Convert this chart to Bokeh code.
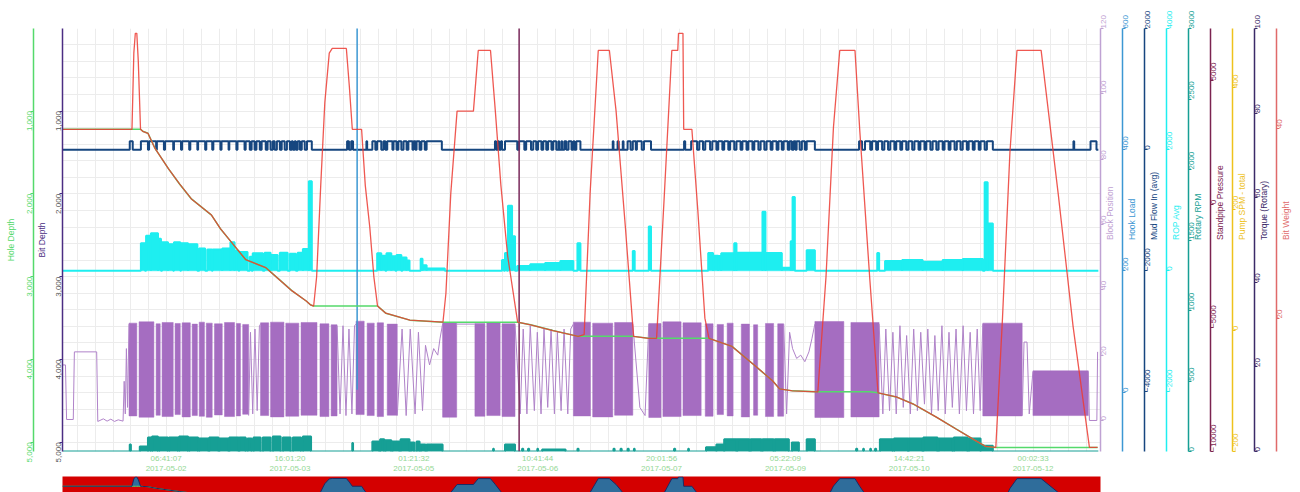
import math, calendar
from datetime import datetime
from bokeh.plotting import figure
from bokeh.models import Range1d, LinearAxis, FixedTicker, SingleIntervalTicker, NumeralTickFormatter
from bokeh.layouts import column
from bokeh.embed import file_html
from bokeh.resources import INLINE

FONT = "Liberation Sans"

# ---------------- time axis ----------------
t_start = "2017-05-01 02:48:10"
t_end = "2017-05-12 18:11:00"
tick_times = ["2017-05-02 06:41:07", "2017-05-03 16:01:20", "2017-05-05 01:21:32",
              "2017-05-06 10:41:44", "2017-05-07 20:01:56", "2017-05-09 05:22:09",
              "2017-05-10 14:42:21", "2017-05-12 00:02:33"]

def to_ms(s):
    return calendar.timegm(datetime.strptime(s, "%Y-%m-%d %H:%M:%S").timetuple()) * 1000.0

T0 = to_ms(t_start)

def H(hours):
    return [T0 + h * 3600000.0 for h in hours]

# ---------------- depth data (hours since start, feet) ----------------
depth_t = [0, 18.7, 19.2, 19.6, 20.0, 20.4, 21.0, 21.6, 23.0, 24.9, 28.5, 31.5, 34.7, 40.1, 42.5,
           45.5, 49.3, 54.7, 58.0, 61.8, 65.6, 66.8, 67.6, 68.4, 69.5, 70.6, 71.8, 72.6, 76.4, 77.2,
           78.0, 80.5, 81.5, 82.7, 83.8, 84.8, 87.0, 93.5, 102.4, 103.2, 104.5, 106.2, 110.6, 111.9,
           115.2, 116.5, 118.0, 119.8, 122.5, 126.0, 132.0, 138.8, 140.4, 142.0, 144.2, 147.2, 149.0,
           151.5, 153.7, 157.7, 159.9, 162.0, 164.0, 165.6, 165.8, 167.0, 167.2, 169.4, 171.0, 172.9,
           174.0, 180.2, 186.0, 191.1, 193.0, 196.5, 203.3, 205.5, 207.5, 209.2, 213.3, 214.6, 217.3,
           219.5, 224.4, 229.0, 235.2, 240.6, 246.1, 248.5, 251.2, 253.0, 255.0, 256.9, 263.4, 268.0,
           272.0, 276.4, 278.6]
bit_depth = [1220, 1220, 300, 61, 61, 400, 1220, 1244, 1268, 1451, 1695, 1880, 2061, 2256, 2420,
             2585, 2793, 2890, 3020, 3171, 3293, 3341, 3354, 3000, 1900, 900, 300, 244, 244, 700,
             1220, 1220, 1900, 2400, 3000, 3354, 3440, 3524, 3549, 3200, 2000, 1000, 1000, 268,
             268, 1000, 1900, 2744, 3549, 3580, 3650, 3720, 3700, 2000, 268, 268, 1000,
             2400, 3720, 3744, 3744, 2000, 268, 268, 61, 61, 1220, 1220, 2200, 3500,
             3744, 3841, 4060, 4256, 4354, 4378, 4390, 3000, 1200, 268, 268, 1244, 3037,
             4402, 4451, 4537, 4695, 4841, 4988, 5049, 5061, 3500, 1500, 268, 268, 2000,
             3600, 5061, 5061]
hole_depth = [1220, 1220, 1220, 1220, 1220, 1220, 1220, 1244, 1268, 1451, 1695, 1880, 2061, 2256, 2420,
              2585, 2793, 2890, 3020, 3171, 3293, 3341, 3354, 3354, 3354, 3354, 3354, 3354, 3354, 3354,
              3354, 3354, 3354, 3354, 3354, 3354, 3440, 3524, 3549, 3549, 3549, 3549, 3549, 3549,
              3549, 3549, 3549, 3549, 3549, 3580, 3650, 3720, 3720, 3720, 3720, 3720, 3720,
              3720, 3720, 3744, 3744, 3744, 3744, 3744, 3744, 3744, 3744, 3744, 3744, 3744,
              3744, 3841, 4060, 4256, 4354, 4378, 4390, 4390, 4390, 4390, 4390, 4390, 4390,
              4402, 4451, 4537, 4695, 4841, 4988, 5049, 5061, 5061, 5061, 5061, 5061, 5061,
              5061, 5061, 5061]

# ---------------- block position ----------------
bp_dense_start = [17.9, 20.6, 25.2, 26.8, 30.3, 32.2, 34.9, 36.8, 38.7, 40.9, 43.6, 46.8, 48.5, 53.3,
                  56.0, 60.1, 64.2, 69.3, 72.3, 79.0, 82.0, 84.7, 87.4, 102.3, 111.0, 114.2, 118.3,
                  137.5, 142.7, 148.6, 157.8, 161.6, 167.0, 173.0, 176.2, 178.9, 182.7, 186.0, 189.2,
                  192.5, 202.5, 212.2, 247.7, 261.2]
bp_dense_end = [20.0, 24.6, 26.3, 29.8, 31.7, 34.4, 36.3, 38.2, 40.3, 43.0, 46.3, 47.9, 50.1, 55.5,
                59.6, 63.6, 68.5, 71.7, 73.9, 81.2, 83.9, 86.4, 90.1, 106.1, 113.7, 117.8, 121.8,
                142.1, 148.1, 153.5, 161.1, 166.5, 171.9, 175.1, 177.9, 180.5, 184.9, 187.1, 191.4,
                194.1, 210.3, 219.8, 258.3, 276.1]
bp_dense_top = [29.8, 30.2, 29.6, 30.0, 29.7, 29.9, 29.5, 30.1, 29.8, 29.6, 30.0, 29.7, 29.4, 29.9,
                30.1, 29.8, 30.0, 29.6, 29.3, 30.4, 29.8, 29.9, 29.5, 30.0, 29.7, 29.9, 29.6, 30.1,
                29.8, 30.0, 29.7, 30.2, 29.9, 29.6, 29.4, 29.8, 29.5, 29.3, 29.7, 29.6, 30.3, 30.0,
                29.8, 15.2]
bp_dense_bottom = [1.4, 1.0, 1.6, 1.2, 1.8, 1.1, 1.5, 1.3, 1.0, 1.7, 1.2, 1.4, 1.9, 1.5, 1.1, 1.3,
                   1.6, 1.2, 1.4, 1.8, 1.5, 1.2, 1.6, 1.0, 1.3, 1.5, 1.2, 1.4, 1.1, 1.6, 0.9, 1.2,
                   1.5, 1.3, 1.8, 1.4, 1.1, 1.6, 1.2, 1.3, 0.9, 1.1, 1.4, 1.5]
bp_sparse_t = [
    [0, 0.8, 1.1, 2.9, 3.2, 9.2, 9.5, 11, 12, 13, 14, 15, 16.3, 16.6, 16.9, 17.2, 17.5, 17.9],
    [50.1, 50.6, 51.2, 51.8, 52.4, 53.0, 53.3],
    [73.9, 74.7, 75.5, 76.3, 77.1, 77.9, 78.6, 79.0],
    [90.1, 91.4, 92.5, 93.6, 94.9, 95.8, 96.9, 97.7, 98.8, 99.9, 101.0, 101.6, 102.3],
    [106.1, 111.0],
    [121.8, 123.2, 124.0, 125.0, 125.9, 127.0, 127.8, 128.8, 129.6, 130.6, 131.5, 132.4, 133.2,
     134.2, 135.0, 136.0, 136.8, 137.5],
    [153.5, 155.4, 156.8, 157.8],
    [194.1, 194.9, 195.7, 196.5, 197.6, 198.7, 199.8, 200.9, 201.7, 202.5],
    [219.8, 220.8, 221.6, 222.6, 223.5, 224.4, 225.4, 226.3, 227.2, 228.2, 229.1, 230.1, 231.0,
     232.0, 232.9, 233.9, 234.8, 235.7, 236.7, 237.6, 238.6, 239.5, 240.5, 241.4, 242.4, 243.3,
     244.3, 245.2, 246.2, 247.0, 247.7],
    [258.3, 258.8, 259.6, 260.2, 261.2],
    [276.1, 276.4, 278.4, 278.6],
]
bp_sparse_v = [
    [17, 17, 0.3, 0.3, 21, 21, -0.3, 0.5, -0.2, 0.4, -0.3, 0.2, -0.2, 12, 2, 22, 4, 29.5],
    [1.5, 27, 2, 28, 3, 29, 29.5],
    [29, 2, 29, 1.5, 28, 2, 29, 29.5],
    [1.5, 28, 1.5, 28, 2, 27, 3, 23, 17, 22, 20, 25, 29.5],
    [29.5, 29.5],
    [29.5, 2, 28, 2, 29, 3, 27, 2, 28, 4, 28, 2, 27, 3, 28, 2, 28, 29.5],
    [29.5, 4, 1.5, 29.5],
    [29.5, 2, 27, 22, 19, 20, 18, 21, 25, 29.5],
    [29.5, 2, 28, 3, 27, 2, 29, 4, 26, 2, 28, 3, 27, 5, 28, 2, 26, 3, 29, 2, 27, 4, 28, 2, 29, 3,
     27, 2, 28, 3, 29.5],
    [1.5, 24, 24, 2, 15],
    [15, 0, 0, 21],
]

# ---------------- mud flow in (avg): pumping intervals ----------------
mf_level = 140
mf_start = [18.1, 21.1, 23.3, 25.4, 27.6, 30.0, 32.2, 34.4, 36.5, 38.7, 40.6, 42.8, 44.9, 47.1, 49.3,
            50.9, 52.2, 53.6, 55.2, 56.6, 57.7, 59.0, 60.4, 61.7, 62.5, 63.3, 64.4, 65.8, 76.6, 77.7,
            81.8, 83.4, 84.7, 86.4, 87.4, 89.1, 90.4, 91.8, 93.1, 94.5, 95.3, 96.6, 98.0, 116.4,
            117.2, 118.0, 119.1, 122.9, 124.8, 126.7, 128.0, 129.4, 130.7, 132.1, 133.5, 134.3,
            135.1, 136.2, 137.5, 138.3, 148.1, 149.4, 150.8, 152.1, 153.5, 154.6, 156.5, 167.3,
            169.2, 171.4, 173.0, 174.9, 176.5, 178.1, 179.7, 181.4, 183.0, 184.6, 186.2, 187.9,
            189.5, 191.1, 192.7, 194.1, 195.7, 196.8, 197.6, 199.0, 200.3, 214.4, 216.0, 217.9,
            219.5, 221.2, 222.8, 224.4, 226.0, 227.7, 229.3, 230.9, 232.5, 234.2, 235.8, 237.4,
            239.0, 240.7, 242.3, 243.9, 245.5, 247.1, 248.8, 272.1, 276.7]
mf_end = [18.9, 23.0, 25.2, 27.3, 29.8, 31.9, 34.1, 36.3, 38.4, 40.3, 42.5, 44.7, 46.8, 49.0, 50.4,
          51.7, 53.1, 54.7, 56.0, 57.1, 58.5, 59.8, 61.2, 62.0, 62.8, 63.9, 65.2, 67.1, 77.1, 78.2,
          82.0, 84.2, 85.8, 86.9, 88.8, 89.9, 91.2, 92.6, 94.2, 95.0, 96.1, 97.5, 102.1, 116.7,
          117.5, 118.3, 122.4, 124.3, 126.1, 127.5, 128.9, 130.2, 131.6, 132.9, 133.7, 134.5,
          135.6, 137.0, 137.8, 139.4, 148.3, 149.7, 151.0, 152.9, 154.3, 155.9, 158.4, 167.6,
          170.8, 172.4, 174.3, 176.0, 177.6, 179.2, 180.8, 182.5, 184.1, 185.7, 187.3, 188.9,
          190.6, 192.2, 193.6, 195.2, 196.3, 197.3, 198.4, 199.8, 202.5, 215.2, 217.4, 219.0,
          220.6, 222.2, 223.9, 225.5, 227.1, 228.7, 230.4, 232.0, 233.6, 235.2, 236.9, 238.5,
          240.1, 241.7, 243.4, 245.0, 246.6, 248.2, 250.4, 272.3, 278.3]

# ---------------- ROP avg ----------------
rop_start = [21.1, 22.5, 23.8, 25.7, 26.8, 28.4, 30.0, 31.9, 33.8, 36.8, 39.0, 40.4, 43.0, 45.2, 46.3,
             47.6, 50.4, 51.2, 54.4, 56.0, 58.5, 61.2, 63.3, 64.7, 66.3, 84.7, 85.8, 87.2, 88.5, 89.9,
             91.5, 92.6, 96.4, 96.9, 98.0, 118.3, 119.1, 119.9, 121.0, 122.4, 125.9, 129.9, 134.0,
             138.6, 153.5, 157.8, 173.8, 175.1, 176.5, 177.3, 180.8, 181.4, 188.4, 189.2, 193.6,
             196.0, 196.5, 200.3, 219.3, 221.4, 226.0, 231.5, 236.9, 242.3, 248.2, 249.0]
rop_end = [22.2, 23.8, 25.7, 26.5, 28.4, 29.8, 31.7, 33.8, 36.3, 38.4, 40.2, 43.0, 45.2, 46.3, 47.4,
           49.8, 50.9, 53.9, 56.0, 57.9, 60.6, 62.8, 64.7, 66.3, 67.1, 85.8, 86.9, 88.5, 89.6, 91.2,
           92.6, 93.4, 96.9, 98.0, 102.9, 118.8, 119.6, 121.0, 121.8, 125.9, 129.9, 134.0, 137.5,
           139.4, 154.0, 158.4, 175.1, 176.5, 177.3, 180.8, 181.4, 188.4, 189.2, 193.6, 196.0,
           196.5, 197.1, 202.5, 219.8, 226.0, 231.5, 236.9, 242.3, 247.7, 249.0, 250.4]
rop_val = [455, 580, 618, 530, 470, 440, 470, 455, 440, 370, 350, 350, 370, 470, 330, 310, 230, 290,
           300, 260, 300, 280, 300, 360, 1480, 290, 250, 290, 240, 260, 220, 170, 200, 90, 40, 179,
           293, 1073, 569, 81, 110, 130, 163, 455, 325, 732, 293, 250, 244, 290, 455, 300, 976, 293,
           49, 488, 1220, 341, 293, 163, 179, 150, 179, 195, 1463, 780]

# ---------------- Rotary RPM ----------------
rot_start = [18.1, 20.8, 23.0, 24.1, 26.0, 28.7, 31.4, 34.1, 36.8, 39.5, 42.2, 44.9, 47.6, 49.8, 51.4,
             53.9, 56.6, 59.3, 62.0, 64.7, 78.0, 83.4, 85.5, 86.9, 88.8, 91.0, 93.7, 95.3, 96.4, 98.0,
             115.9, 119.1, 123.7, 125.3, 127.8, 129.1, 138.6, 148.3, 150.2, 152.1, 153.8, 164.6,
             168.4, 173.2, 176.0, 178.1, 181.6, 185.2, 188.4, 191.7, 196.3, 200.3, 213.6, 215.5,
             217.4, 218.7, 220.0, 223.8, 227.7, 231.7, 235.8, 239.9, 243.9, 247.1]
rot_end = [18.4, 23.0, 23.8, 25.7, 28.4, 31.1, 33.8, 36.5, 39.3, 42.0, 44.7, 47.4, 49.3, 50.9, 53.3,
           56.0, 58.7, 61.4, 64.2, 66.9, 78.2, 85.3, 86.6, 88.5, 90.7, 93.4, 94.7, 96.1, 97.7, 102.3,
           116.1, 121.8, 124.0, 125.6, 128.0, 135.4, 138.9, 148.6, 150.5, 152.4, 154.0, 164.9,
           168.6, 176.0, 178.1, 181.4, 184.9, 188.1, 191.4, 195.5, 198.2, 202.5, 213.9, 215.7,
           217.6, 219.0, 223.5, 227.6, 231.5, 235.5, 239.6, 243.6, 247.1, 250.4]
rot_val = [50, 36, 100, 107, 100, 100, 107, 100, 93, 100, 93, 100, 100, 93, 100, 100, 107, 100, 100,
           107, 60, 71, 86, 79, 71, 86, 64, 71, 50, 50, 20, 50, 20, 20, 20, 14, 20, 20, 20, 20, 20,
           20, 20, 30, 50, 86, 86, 86, 86, 86, 64, 86, 20, 20, 20, 20, 86, 93, 93, 100, 93, 100, 93, 40]

# ---------------- single spikes ----------------
hook_t = [79.3, 79.3]
hook_v = [4, 640]
torque_t = [122.9, 122.9]
torque_v = [0, 105]

T_LAST = 278.8


def step_xy(starts, ends, vals):
    xs, ys = [0.0], [0.0]
    for a, b, v in zip(starts, ends, vals):
        xs += [a, a, b, b]
        ys += [0, v, v, 0]
    xs.append(T_LAST)
    ys.append(0)
    return xs, ys


# ---------------- colours ----------------
C_BIT = "#ec3b33"
C_HOLE = "#55d96b"
C_BITAX = "#4b2d83"
C_BLOCK = "#a56dc1"
C_BLOCK_AX = "#bfa2d3"
C_HOOK = "#3c97d3"
C_MUD = "#16467f"
C_ROP = "#1eeef0"
C_ROT = "#169f95"
C_SPP = "#7b2350"
C_PUMP = "#eec21c"
C_TRQ = "#3b2a68"
C_WOB = "#e06a6a"
C_TICK = "#93d894"

major_ms = [to_ms(s) for s in tick_times]
step = (major_ms[1] - major_ms[0]) / 7.0
minor_ms = [major_ms[0] + k * step for k in range(-20, 64)]

p = figure(width=1300, height=476, x_axis_type="datetime",
           x_range=Range1d(T0, to_ms(t_end)), y_range=Range1d(5110, 3),
           output_backend="svg", toolbar_location=None,
           min_border_top=28, min_border_bottom=0, min_border_left=0, min_border_right=0)
p.outline_line_color = None
p.background_fill_color = "white"

# grid
p.xgrid.ticker = FixedTicker(ticks=major_ms, minor_ticks=minor_ms)
p.xgrid.grid_line_color = "#ececec"
p.xgrid.minor_grid_line_color = "#ececec"
p.ygrid.ticker = SingleIntervalTicker(interval=1000, num_minor_ticks=5)
p.ygrid.grid_line_color = "#ececec"
p.ygrid.minor_grid_line_color = "#ececec"

# x axis
xa = p.xaxis[0]
xa.ticker = FixedTicker(ticks=major_ms)
xa.major_label_overrides = {ms: s[11:] + "\n" + s[:10] for ms, s in zip(major_ms, tick_times)}
xa.major_label_text_color = C_TICK
xa.major_label_text_font_size = "8px"
xa.major_label_text_font = FONT
xa.axis_line_color = None
xa.major_tick_line_color = None
xa.minor_tick_line_color = None
xa.major_tick_out = 0
xa.major_label_standoff = 2


def style_axis(ax, col, lab_col=None, right=False):
    ax.axis_line_color = col
    ax.axis_line_width = 1.5
    ax.major_tick_line_color = col
    ax.minor_tick_line_color = None
    ax.major_tick_out = 3
    ax.major_tick_in = 0
    ax.major_label_text_color = lab_col or col
    ax.major_label_text_font_size = "8px"
    ax.major_label_text_font = FONT
    ax.major_label_orientation = math.pi / 2
    ax.major_label_standoff = 1
    ax.axis_label_text_font_size = "8.5px"
    ax.axis_label_text_font = FONT
    ax.axis_label_text_font_style = "normal"
    ax.axis_label_text_color = col
    ax.axis_label_standoff = 1
    if right:
        ax.major_label_standoff = 0
        ax.axis_label_standoff = -2
        if "axis_label_orientation" in ax.properties():
            ax.axis_label_orientation = math.pi / 2


# left axes
ya = p.yaxis[0]
ya.ticker = SingleIntervalTicker(interval=1000, num_minor_ticks=0)
ya.formatter = NumeralTickFormatter(format="0,0")
ya.axis_label = "Bit Depth"
style_axis(ya, C_BITAX, "#555555")
ya.axis_label_standoff = 4
hole_ax = LinearAxis(axis_label="Hole Depth",
                     ticker=SingleIntervalTicker(interval=1000, num_minor_ticks=0),
                     formatter=NumeralTickFormatter(format="0,0"))
style_axis(hole_ax, C_HOLE)
hole_ax.axis_label_standoff = 6
p.add_layout(hole_ax, "left")

# right axes
right_specs = [
    ("block", "Block Position", -9.5, 120, 20, C_BLOCK_AX),
    ("hook", "Hook Load", -98, 600, 200, C_HOOK),
    ("mud", "Mud Flow In (avg)", -4983, 2000, 2000, C_MUD),
    ("rop", "ROP Avg", -2983, 4000, 2000, C_ROP),
    ("rot", "Rotary RPM", 0, 3000, 500, C_ROT),
    ("spp", "Standpipe Pressure", -10000, 7100, 5000, C_SPP),
    ("pump", "Pump SPM - total", -200, 498, 200, C_PUMP),
    ("trq", "Torque (Rotary)", 0, 100, 20, C_TRQ),
    ("wob", "Bit Weight", 6, 50.5, 20, C_WOB),
]
for name, label, lo, hi, itv, col in right_specs:
    p.extra_y_ranges[name] = Range1d(lo, hi)
    ax = LinearAxis(y_range_name=name, axis_label=label,
                    ticker=SingleIntervalTicker(interval=itv, num_minor_ticks=0))
    style_axis(ax, col, right=True)
    p.add_layout(ax, "right")

# ---------------- series ----------------
p.quad(left=H(bp_dense_start), right=H(bp_dense_end), bottom=bp_dense_bottom, top=bp_dense_top,
       y_range_name="block", fill_color=C_BLOCK, line_color=C_BLOCK, line_width=0.5)
p.multi_line(xs=[H(s) for s in bp_sparse_t], ys=bp_sparse_v, y_range_name="block",
             line_color="#b083c9", line_width=1)

rx, ry = step_xy(rop_start, rop_end, rop_val)
p.quad(left=H(rop_start), right=H(rop_end), bottom=0, top=rop_val, y_range_name="rop",
       fill_color=C_ROP, line_color=C_ROP, line_width=0.5)
p.line(H(rx), ry, y_range_name="rop", line_color=C_ROP, line_width=2)

ox, oy = step_xy(rot_start, rot_end, rot_val)
p.quad(left=H(rot_start), right=H(rot_end), bottom=0, top=rot_val, y_range_name="rot",
       fill_color=C_ROT, line_color=C_ROT, line_width=0.5)
p.line(H(ox), oy, y_range_name="rot", line_color=C_ROT, line_width=2)

mx, my = step_xy(mf_start, mf_end, [mf_level] * len(mf_start))
p.line(H(mx), my, y_range_name="mud", line_color=C_MUD, line_width=2)

p.line(H(hook_t), hook_v, y_range_name="hook", line_color=C_HOOK, line_width=1.5)
p.line(H(torque_t), torque_v, y_range_name="trq", line_color="#7a2a5c", line_width=1.5)

p.line(H(depth_t), hole_depth, line_color=C_HOLE, line_width=1.5)
p.line(H(depth_t), bit_depth, line_color=C_BIT, line_width=1.3, line_alpha=0.85)

# ---------------- navigator ----------------
nav = figure(width=1300, height=16, x_range=Range1d(T0, to_ms(t_end)), y_range=Range1d(2000, 0),
             output_backend="svg", toolbar_location=None,
             min_border_top=0, min_border_bottom=0, min_border_left=62, min_border_right=200)
nav.axis.visible = False
nav.grid.visible = False
nav.outline_line_color = None
nav.background_fill_color = "#d40000"
nav.varea(x=H(depth_t), y1=bit_depth, y2=hole_depth, fill_color="#2f6d9b")
nav.line(H(depth_t), hole_depth, line_color=C_HOLE, line_width=1)
nav.line(H(depth_t), bit_depth, line_color="#1b2b66", line_width=1)

layout = column(p, nav, spacing=0)
open("out.html", "w").write(file_html(layout, INLINE))
